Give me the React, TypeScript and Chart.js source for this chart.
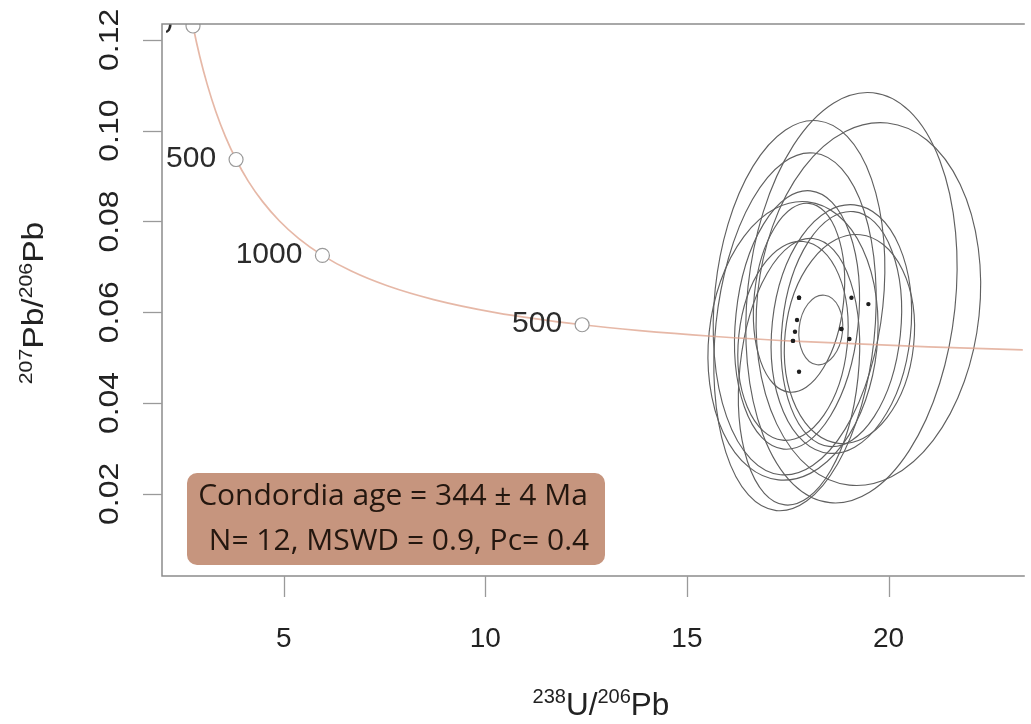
import React, { useEffect, useRef } from "react";
import { Chart, registerables } from "chart.js";
Chart.register(...registerables);

// ---- axis ranges & ticks ----
const X_MIN = 1.98;
const X_MAX = 23.33;
const Y_MIN = 0.0019;
const Y_MAX = 0.1235;
const xTicks = [5, 10, 15, 20];
const xTickLabels = ["5", "10", "15", "20"];
const yTicks = [0.02, 0.04, 0.06, 0.08, 0.1, 0.12];
const yTickLabels = ["0.02", "0.04", "0.06", "0.08", "0.10", "0.12"];

// ---- concordia curve (Tera-Wasserburg), ages in Ma ----
const concordiaAges = [2100, 2000, 1900, 1800, 1700, 1600, 1500, 1400, 1300, 1200, 1100, 1000, 900, 800, 700, 600, 500, 450, 400, 350, 300, 250];
const concordiaX = [2.597, 2.749, 2.917, 3.105, 3.314, 3.550, 3.817, 4.122, 4.476, 4.888, 5.374, 5.959, 6.674, 7.568, 8.718, 10.252, 12.40, 13.831, 15.620, 17.923, 20.992, 25.290];
const concordiaY = [0.13021, 0.12306, 0.11634, 0.11009, 0.10423, 0.09876, 0.09365, 0.08884, 0.08437, 0.08016, 0.07622, 0.07253, 0.06907, 0.06583, 0.06279, 0.05993, 0.05725, 0.05596, 0.05472, 0.05352, 0.05236, 0.05123];

// ---- age markers on concordia ----
const markerLabels = ["2000", "1500", "1000", "500"];
const markerX = [2.749, 3.817, 5.959, 12.40];
const markerY = [0.12306, 0.09365, 0.07253, 0.05725];

// ---- analyses: error ellipses (centre, semi-axes) ----
const ellipseCx = [19.08, 19.50, 17.78, 17.68, 17.73, 17.63, 18.83, 19.03, 17.78, 17.78, 17.63, 18.83];
const ellipseCy = [0.0632, 0.0618, 0.0632, 0.0557, 0.0583, 0.0537, 0.0563, 0.0541, 0.0469, 0.0632, 0.0537, 0.0563];
const ellipseRx = [2.58, 2.76, 2.09, 1.97, 1.52, 2.09, 1.47, 1.60, 1.47, 1.11, 1.35, 1.72];
const ellipseRy = [0.0454, 0.0401, 0.0392, 0.0396, 0.0286, 0.0308, 0.0260, 0.0231, 0.0295, 0.0209, 0.0220, 0.0275];
const ellipseTiltDeg = 6;

// ---- concordia age ellipse ----
const meanX = [18.32];
const meanY = [0.0561];
const meanRx = [0.54];
const meanRy = [0.0077];

const boxLines = ["Condordia age = 344 ± 4 Ma", "N= 12, MSWD = 0.9, Pc= 0.4"];

const xTitleParts: [string, boolean][] = [["238", true], ["U/", false], ["206", true], ["Pb", false]];
const yTitleParts: [string, boolean][] = [["207", true], ["Pb/", false], ["206", true], ["Pb", false]];

const SANS = '"Liberation Sans", Arial, sans-serif';

function drawParts(ctx: CanvasRenderingContext2D, parts: [string, boolean][], mainPx: number, supPx: number, raise: number) {
  let total = 0;
  const widths = parts.map(([t, sup]) => {
    ctx.font = `${sup ? supPx : mainPx}px ${SANS}`;
    const w = ctx.measureText(t).width;
    total += w;
    return w;
  });
  let x = -total / 2;
  parts.forEach(([t, sup], i) => {
    ctx.font = `${sup ? supPx : mainPx}px ${SANS}`;
    ctx.fillText(t, x, sup ? -raise : 0);
    x += widths[i];
  });
}

const customPlugin = {
  id: "concordiaDecor",
  beforeDatasetsDraw(chart: any) {
    const { ctx, chartArea: a, scales } = chart;
    const xs = scales.x;
    const ys = scales.y;
    ctx.save();
    ctx.beginPath();
    ctx.rect(a.left, a.top, a.right - a.left, a.bottom - a.top);
    ctx.clip();
    const drawEll = (cx: number, cy: number, rx: number, ry: number, color: string, lw: number) => {
      const px = xs.getPixelForValue(cx);
      const py = ys.getPixelForValue(cy);
      const rpx = Math.abs(xs.getPixelForValue(cx + rx) - px);
      const rpy = Math.abs(ys.getPixelForValue(cy + ry) - py);
      ctx.beginPath();
      ctx.ellipse(px, py, rpx, rpy, (ellipseTiltDeg * Math.PI) / 180, 0, Math.PI * 2);
      ctx.strokeStyle = color;
      ctx.lineWidth = lw;
      ctx.stroke();
    };
    ellipseCx.forEach((cx, i) => drawEll(cx, ellipseCy[i], ellipseRx[i], ellipseRy[i], "#606060", 1.15));
    meanX.forEach((cx, i) => drawEll(cx, meanY[i], meanRx[i], meanRy[i], "#6a6a6a", 1.15));
    ctx.restore();
  },
  afterDatasetsDraw(chart: any) {
    const { ctx, chartArea: a, scales } = chart;
    ctx.save();
    ctx.beginPath();
    ctx.rect(a.left + 4, a.top, a.right - a.left - 4, a.bottom - a.top);
    ctx.clip();
    ctx.fillStyle = "#2b2b2b";
    ctx.font = `30px ${SANS}`;
    ctx.textAlign = "right";
    ctx.textBaseline = "middle";
    markerLabels.forEach((lab, i) => {
      const px = scales.x.getPixelForValue(markerX[i]);
      const py = scales.y.getPixelForValue(markerY[i]);
      ctx.fillText(lab, px - 20, py - 1);
    });
    ctx.restore();
  },
  afterDraw(chart: any) {
    const { ctx, chartArea: a, scales } = chart;
    const xs = scales.x;
    const ys = scales.y;
    ctx.save();
    // frame
    ctx.strokeStyle = "#8c8c8c";
    ctx.lineWidth = 1.5;
    ctx.beginPath();
    ctx.moveTo(a.right + 2, a.top);
    ctx.lineTo(a.left, a.top);
    ctx.lineTo(a.left, a.bottom);
    ctx.lineTo(a.right + 2, a.bottom);
    ctx.stroke();
    // ticks
    ctx.strokeStyle = "#9a9a9a";
    ctx.lineWidth = 1.3;
    xTicks.forEach((v) => {
      const px = Math.round(xs.getPixelForValue(v)) + 0.5;
      ctx.beginPath();
      ctx.moveTo(px, a.bottom);
      ctx.lineTo(px, a.bottom + 21);
      ctx.stroke();
    });
    yTicks.forEach((v) => {
      const py = Math.round(ys.getPixelForValue(v)) + 0.5;
      ctx.beginPath();
      ctx.moveTo(a.left, py);
      ctx.lineTo(a.left - 19, py);
      ctx.stroke();
    });
    // tick labels
    ctx.fillStyle = "#222";
    ctx.textAlign = "center";
    ctx.textBaseline = "alphabetic";
    ctx.font = `28px ${SANS}`;
    xTicks.forEach((v, i) => {
      ctx.fillText(xTickLabels[i], xs.getPixelForValue(v), 647);
    });
    yTicks.forEach((v, i) => {
      ctx.save();
      ctx.translate(118, ys.getPixelForValue(v));
      ctx.rotate(-Math.PI / 2);
      ctx.scale(1.12, 1);
      ctx.font = `28.5px ${SANS}`;
      ctx.fillText(yTickLabels[i], 0, 0);
      ctx.restore();
    });
    // axis titles
    ctx.save();
    ctx.translate(601, 715);
    ctx.textAlign = "left";
    drawParts(ctx, xTitleParts, 31.5, 20, 12);
    ctx.restore();
    ctx.save();
    ctx.translate(43, 303);
    ctx.rotate(-Math.PI / 2);
    ctx.scale(1.12, 1);
    ctx.textAlign = "left";
    drawParts(ctx, yTitleParts, 30, 19, 11.5);
    ctx.restore();
    // annotation box
    ctx.fillStyle = "#c6957e";
    ctx.beginPath();
    (ctx as any).roundRect(187, 473, 418, 92, 10);
    ctx.fill();
    ctx.fillStyle = "#24170f";
    ctx.textAlign = "center";
    ctx.font = `30px "Open Sans", Lato, sans-serif`;
    ctx.fillText(boxLines[0], 393, 505, 392);
    ctx.fillText(boxLines[1], 399, 550, 390);
    ctx.restore();
  },
};

export default function App() {
  const ref = useRef<HTMLCanvasElement | null>(null);
  useEffect(() => {
    if (!ref.current) return;
    const chart = new Chart(ref.current, {
      type: "scatter",
      data: {
        datasets: [
          {
            label: "age markers",
            data: markerX.map((x, i) => ({ x, y: markerY[i] })),
            pointRadius: 7,
            pointBackgroundColor: "#ffffff",
            pointBorderColor: "#9a9a9a",
            pointBorderWidth: 1.2,
            clip: 0,
          } as any,
          {
            label: "centres",
            data: ellipseCx.map((x, i) => ({ x, y: ellipseCy[i] })),
            pointRadius: 2.2,
            pointBackgroundColor: "#1e1e1e",
            pointBorderWidth: 0,
            clip: 0,
          } as any,
          {
            type: "line",
            label: "concordia",
            data: concordiaX.map((x, i) => ({ x, y: concordiaY[i] })),
            borderColor: "rgba(222,160,138,0.75)",
            borderWidth: 1.7,
            pointRadius: 0,
            cubicInterpolationMode: "monotone",
            fill: false,
            clip: 0,
          } as any,
        ],
      },
      options: {
        responsive: false,
        animation: false,
        events: [],
        layout: { padding: { left: 162, top: 24, right: 0, bottom: 148 } },
        scales: {
          x: { type: "linear", min: X_MIN, max: X_MAX, display: false },
          y: { type: "linear", min: Y_MIN, max: Y_MAX, display: false },
        },
        plugins: { legend: { display: false }, tooltip: { enabled: false } },
      },
      plugins: [customPlugin as any],
    });
    return () => chart.destroy();
  }, []);
  return (
    <div style={{ position: "fixed", left: 0, top: 0, width: 1031, height: 724, background: "#fff" }}>
      <canvas ref={ref} width={1031} height={724} style={{ display: "block" }} />
    </div>
  );
}
